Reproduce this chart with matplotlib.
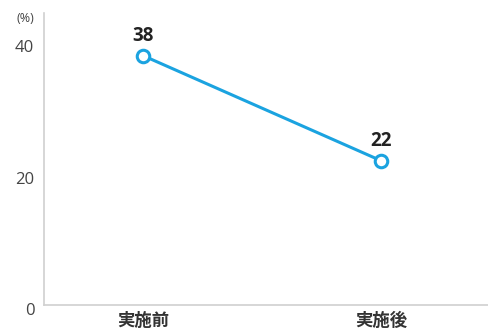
import matplotlib.pyplot as plt
import matplotlib.transforms as mtransforms

plt.rcParams['font.family'] = ['Noto Sans CJK JP', 'DejaVu Sans']

categories = ["実施前", "実施後"]
values = [38, 22]
yticks = [0, 20, 40]

fig = plt.figure(figsize=(4.89, 3.32), dpi=100)
ax = fig.add_axes([0.09, 0.081, 0.91, 0.88])

x = list(range(len(categories)))
ax.plot(x, values, color="#1ba3e0", linewidth=2.2, marker="o",
        markersize=9, markerfacecolor="white", markeredgewidth=2.2,
        markeredgecolor="#1ba3e0", zorder=3)

for xi, v in zip(x, values):
    ax.annotate(str(v), (xi, v), xytext=(0, 7), textcoords="offset points",
                ha="center", va="bottom", fontsize=13.5, fontweight="bold",
                family=["Open Sans", "DejaVu Sans"], color="#222222")

ax.set_xlim(-0.416, 1.454)
ax.set_ylim(0, 44.5)
ax.set_xticks(x)
ax.set_xticklabels(categories, fontsize=12.5, fontweight="bold", color="#333333")
ax.set_yticks(yticks)
ax.set_yticklabels([str(t) for t in yticks], fontsize=12, color="#444444",
                   family=["Open Sans", "DejaVu Sans"])
ax.tick_params(length=0)
ax.tick_params(axis="y", pad=7)
ax.tick_params(axis="x", pad=5)

# y labels sit a few pixels below their gridline
shift = mtransforms.ScaledTranslation(0, -4 / 100, fig.dpi_scale_trans)
for lbl in ax.get_yticklabels():
    lbl.set_transform(lbl.get_transform() + shift)

for side in ["top", "right"]:
    ax.spines[side].set_visible(False)
for side in ["left", "bottom"]:
    ax.spines[side].set_color("#d0d0d0")
    ax.spines[side].set_linewidth(1.2)

fig.text(0.052, 0.945, "(%)", fontsize=9, color="#444444", ha="center", va="center",
         family=["Open Sans", "DejaVu Sans"])

fig.savefig("out.png", dpi=100, facecolor="white")
